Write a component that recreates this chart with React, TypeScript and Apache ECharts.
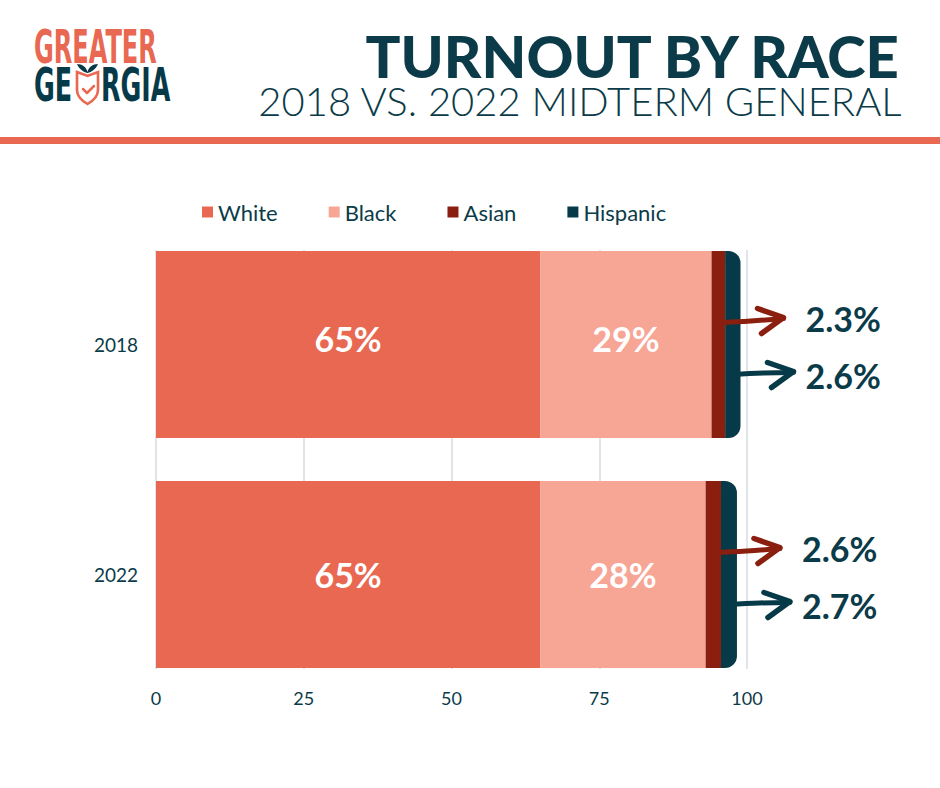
import React, { useEffect, useRef } from "react";
import * as echarts from "echarts";

const years = ["2018", "2022"];
const white = [65, 65];
const black = [29, 28];
const asian = [2.3, 2.6];
const hispanic = [2.6, 2.7];
const xTicks = [0, 25, 50, 75, 100];

const TEAL = "#0B3B48";
const C_WHITE = "#E96852";
const C_BLACK = "#F7A595";
const C_ASIAN = "#8B1F0F";
const C_HISP = "#073A48";
const FONT = "Lato, 'Open Sans', sans-serif";
const LOGO_FONT = "'Liberation Sans Narrow', 'DejaVu Sans Condensed', sans-serif";

echarts.graphic.registerShape(
  "shield",
  echarts.graphic.extendPath(
    "M0,2 L10,6 L20,2 L20,20 C20,27 15,31 10,34 C5,31 0,27 0,20 Z",
    {}
  )
);
echarts.graphic.registerShape(
  "leaves",
  echarts.graphic.extendPath(
    "M0,0 C5,0 9,3 10,8 C11,3 15,0 20,0 C18,5 14,8 10,9 C6,8 2,5 0,0 Z",
    {}
  )
);

export default function App() {
  const ref = useRef<HTMLDivElement>(null);
  useEffect(() => {
    document.body.style.margin = "0";
    const chart = echarts.init(ref.current!, null, { renderer: "svg" });
    const labelOffsets = [[0, -6], [0, 0]];
    const segLabel = (vals: number[]) =>
      vals.map((v, i) => ({ value: v, label: { offset: labelOffsets[i] } }));
    const barLabel = {
      show: true,
      position: "inside",
      formatter: "{c}%",
      color: "#ffffff",
      fontFamily: FONT,
      fontWeight: "bold",
      fontSize: 34,
    };
    chart.setOption({
      animation: false,
      backgroundColor: "#ffffff",
      legend: {
        left: 197,
        top: 196,
        icon: "rect",
        itemWidth: 11,
        itemHeight: 11,
        itemGap: 51,
        textStyle: { color: TEAL, fontFamily: FONT, fontSize: 22 },
        data: ["White", "Black", "Asian", "Hispanic"],
      },
      grid: [
        { left: 156, right: 193, top: 250, bottom: 119 },
        { left: 156, right: 193, top: 229.5, bottom: 98.5 },
      ],
      xAxis: [
        {
          gridIndex: 0,
          type: "value",
          min: xTicks[0],
          max: xTicks[xTicks.length - 1],
          interval: xTicks[1] - xTicks[0],
          axisLine: { show: false },
          axisTick: { show: false },
          axisLabel: { color: TEAL, fontFamily: FONT, fontSize: 18, margin: 20 },
          splitLine: { show: true, lineStyle: { color: "#D5DDE1", width: 1.5 } },
        },
        {
          gridIndex: 1,
          type: "value",
          min: 0,
          max: 100,
          show: false,
          splitLine: { show: false },
        },
      ],
      yAxis: [
        { gridIndex: 0, type: "category", data: years, inverse: true, show: false },
        {
          gridIndex: 1,
          type: "category",
          data: years,
          inverse: true,
          axisLine: { show: false },
          axisTick: { show: false },
          axisLabel: { color: TEAL, fontFamily: FONT, fontSize: 19, margin: 18 },
        },
      ],
      series: [
        {
          name: "White",
          type: "bar",
          stack: "t",
          xAxisIndex: 1,
          yAxisIndex: 1,
          barWidth: 187,
          itemStyle: { color: C_WHITE },
          label: barLabel,
          data: segLabel(white),
        },
        {
          name: "Black",
          type: "bar",
          stack: "t",
          xAxisIndex: 1,
          yAxisIndex: 1,
          barWidth: 187,
          itemStyle: { color: C_BLACK },
          label: barLabel,
          data: segLabel(black),
        },
        {
          name: "Asian",
          type: "bar",
          stack: "t",
          xAxisIndex: 1,
          yAxisIndex: 1,
          barWidth: 187,
          itemStyle: { color: C_ASIAN },
          data: asian,
        },
        {
          name: "Hispanic",
          type: "bar",
          stack: "t",
          xAxisIndex: 1,
          yAxisIndex: 1,
          barWidth: 187,
          itemStyle: { color: C_HISP, borderRadius: [0, 12, 12, 0] },
          data: hispanic,
        },
      ],
    });

    const arrowEls: any[] = [];
    years.forEach((yr, i) => {
      const yc = chart.convertToPixel({ yAxisIndex: 1 }, yr) as number;
      const asianMid = chart.convertToPixel(
        { xAxisIndex: 1 },
        white[i] + black[i] + asian[i] / 2
      ) as number;
      const hispMid = chart.convertToPixel(
        { xAxisIndex: 1 },
        white[i] + black[i] + asian[i] + hispanic[i] / 2
      ) as number;
      const hispEnd = chart.convertToPixel(
        { xAxisIndex: 1 },
        white[i] + black[i] + asian[i] + hispanic[i]
      ) as number;
      const arrows = [
        { color: C_ASIAN, sx: asianMid, sy: yc - 22, tx: hispEnd + 43, ty: yc - 26, ly: yc - 26, val: asian[i] },
        { color: C_HISP, sx: hispMid, sy: yc + 30, tx: hispEnd + 53, ty: yc + 28, ly: yc + 31, val: hispanic[i] },
      ];
      arrows.forEach((a) => {
        arrowEls.push({
          type: "polyline",
          z: 100,
          shape: { points: [[a.sx, a.sy], [(a.sx + a.tx) / 2, a.sy - 1.5], [a.tx, a.ty]], smooth: 0.4 },
          style: { stroke: a.color, lineWidth: 5, lineCap: "round", lineJoin: "round", fill: null },
        });
        arrowEls.push({
          type: "polyline",
          z: 100,
          shape: { points: [[a.tx - 26, a.ty - 10], [a.tx, a.ty - 1], [a.tx - 22, a.ty + 15]] },
          style: { stroke: a.color, lineWidth: 5.5, lineCap: "round", lineJoin: "round", fill: null },
        });
        arrowEls.push({
          type: "text",
          z: 100,
          x: hispEnd + 65,
          y: a.ly,
          style: {
            text: a.val.toFixed(1) + "%",
            fill: TEAL,
            fontFamily: FONT,
            fontWeight: "bold",
            fontSize: 34,
            textVerticalAlign: "middle",
          },
        });
      });
    });

    chart.setOption({
      graphic: [
        ...arrowEls,
        { type: "rect", shape: { x: 0, y: 137, width: 940, height: 7 }, style: { fill: C_WHITE } },
        {
          type: "text",
          right: 37,
          top: 26,
          style: { text: "TURNOUT BY RACE", fill: TEAL, fontFamily: FONT, fontWeight: 900, fontSize: 58, lineHeight: 54 },
        },
        {
          type: "text",
          right: 37,
          top: 81,
          style: { text: "2018 VS. 2022 MIDTERM GENERAL", fill: TEAL, fontFamily: FONT, fontWeight: 300, fontSize: 40, lineHeight: 35 },
        },
        // logo
        {
          type: "text",
          x: 34,
          y: 23,
          scaleX: 0.57,
          style: { text: "GREATER", fill: C_WHITE, fontFamily: LOGO_FONT, fontWeight: "bold", fontSize: 47 },
        },
        {
          type: "text",
          x: 34,
          y: 61,
          scaleX: 0.6,
          style: { text: "GE", fill: C_HISP, fontFamily: LOGO_FONT, fontWeight: "bold", fontSize: 47 },
        },
        {
          type: "text",
          x: 101,
          y: 61,
          scaleX: 0.6,
          style: { text: "RGIA", fill: C_HISP, fontFamily: LOGO_FONT, fontWeight: "bold", fontSize: 47 },
        },
        {
          type: "shield",
          x: 77,
          y: 70,
          scaleX: 1.05,
          scaleY: 1.0,
          style: { fill: "#ffffff", stroke: C_WHITE, lineWidth: 2.5 },
        },
        {
          type: "leaves",
          x: 77,
          y: 64,
          scaleX: 1.05,
          scaleY: 1.0,
          style: { fill: C_HISP },
        },
        {
          type: "polyline",
          shape: { points: [[83, 89], [87, 93], [94, 86]] },
          style: { stroke: C_WHITE, lineWidth: 2.5, fill: null, lineCap: "round", lineJoin: "round" },
        },
      ],
    });
    return () => chart.dispose();
  }, []);
  return <div ref={ref} style={{ width: 940, height: 788 }} />;
}
